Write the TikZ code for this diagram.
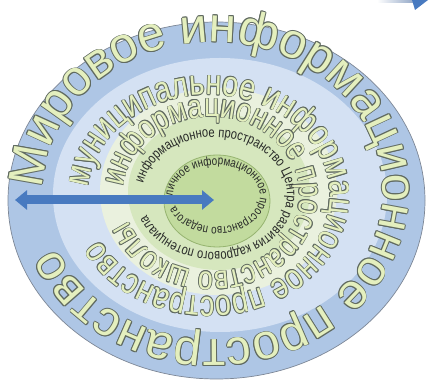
\documentclass[tikz,border=0pt]{standalone}
\usepackage{fontspec}
\newfontfamily\ringfontwide[FakeStretch=1.0]{Liberation Sans}
\newfontfamily\ringfont[FakeStretch=0.8]{Liberation Sans}
\usepackage{tikz}
\usetikzlibrary{arrows.meta,decorations.text}
\definecolor{RingA}  {RGB}{174,198,229}
\definecolor{RingB}  {RGB}{212,225,243}
\definecolor{RingC}  {RGB}{234,241,222}
\definecolor{RingD}  {RGB}{214,231,190}
\definecolor{RingE}  {RGB}{194,219,158}
\definecolor{RingLn} {RGB}{125,135,150}
\definecolor{RingELn}{RGB}{150,180,112}
\definecolor{TxtFill}{RGB}{228,239,190}
\definecolor{TxtLine}{RGB}{96,106,96}
\definecolor{TxtDark}{RGB}{40,42,40}
\definecolor{ArrBlue}{RGB}{72,122,192}
\definecolor{ArrGrey}{RGB}{150,170,200}
\tikzset{
  ring_a/.style={fill=RingA,draw=RingLn,line width=0.7pt},
  ring_b/.style={fill=RingB},
  ring_c/.style={fill=RingC},
  ring_d/.style={fill=RingD},
  ring_e/.style={fill=RingE,draw=RingELn,line width=0.8pt},
  arr_big/.style={{Triangle[length=12pt,width=19pt]}-{Triangle[length=12pt,width=19pt]},line width=9pt,draw=ArrBlue},
}
\newcommand{\fontA}{\ringfontwide\fontsize{49}{49}\selectfont}
\newcommand{\fontB}{\ringfont\fontsize{36}{36}\selectfont}
\newcommand{\fontC}{\ringfont\fontsize{33.5}{33.5}\selectfont}
\newcommand{\fontD}{\ringfont\fontsize{14}{14}\selectfont}
\newcommand{\fontE}{\ringfont\fontsize{12.4}{12.4}\selectfont}
% outlined text round an ellipse: cx,cy,rx,ry,start,font,outline,text
\newcommand{\ringtext}[8]{%
  \foreach \a in {0,45,...,315}{%
    \path[shift={(\a:#7)},decorate,decoration={text along path,
      text={|#6\color{TxtLine}|#8}}]
      (#1,#2) ++(#5:#3 and #4) arc[start angle=#5,delta angle=-359,x radius=#3,y radius=#4];}
  \path[decorate,decoration={text along path,
    text={|#6\color{TxtFill}|#8}}]
    (#1,#2) ++(#5:#3 and #4) arc[start angle=#5,delta angle=-359,x radius=#3,y radius=#4];}
% plain text round an ellipse: cx,cy,rx,ry,start,font,text
\newcommand{\ringnote}[7]{%
  \path[decorate,decoration={text along path,
    text={|#6\color{TxtDark}|#7}}]
    (#1,#2) ++(#5:#3 and #4) arc[start angle=#5,delta angle=-359,x radius=#3,y radius=#4];}

\begin{document}
\begin{tikzpicture}[x=1pt,y=1pt]
\useasboundingbox (0,0) rectangle (428,382);
% rings
\path[ring_a] (216.5,181.5) ellipse [x radius=208.5,y radius=178.5];
\path[ring_b] (220,187) ellipse [x radius=167,y radius=137];
\path[ring_c] (218.5,190.5) ellipse [x radius=118.5,y radius=103.5];
\path[ring_d] (219,190) ellipse [x radius=91,y radius=78];
\path[ring_e] (217,181) ellipse [x radius=53,y radius=46];
% texts
\ringtext{213}{191}{170}{149}{179}{\fontA}{0.9pt}{Мировое информационное пространство}
\ringtext{209}{186}{121}{101}{175}{\fontB}{0.7pt}{муниципальное информационное пространство}
\ringtext{211.5}{187.5}{88.5}{77.5}{174}{\fontC}{0.7pt}{информационное пространство школы}
\ringnote{214.5}{187.5}{72.5}{57.5}{169}{\fontD}{информационное пространство Центра развития кадрового потенциала}
\ringnote{216.5}{186}{43.5}{31}{181}{\fontE}{личное информационное пространство педагога}
% arrow
\coordinate (arr_l) at (15,182);
\coordinate (arr_r) at (214,182);
\draw[arr_big] (arr_l) -- (arr_r);
% corner piece
\shade[left color=white,right color=ArrGrey] (377,379) rectangle (413,382);
\fill[ArrBlue] (412,382) -- (428,382) -- (415,372) -- cycle;
\end{tikzpicture}
\end{document}
